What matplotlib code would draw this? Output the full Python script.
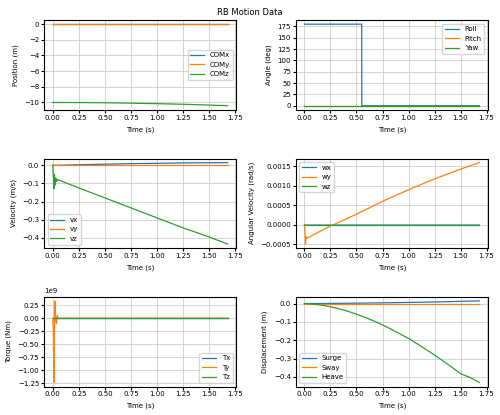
import matplotlib
matplotlib.use("Agg")
import matplotlib.pyplot as plt
from matplotlib.ticker import MultipleLocator

# Position
t_pos = [0.0, 0.25, 0.5, 0.75, 1.0, 1.25, 1.5, 1.68]
comx = [0.0, 0.0, 0.0, 0.0, 0.0, 0.0, 0.0, 0.0]
comy = [0.0, 0.0, 0.0, 0.0, 0.0, 0.0, 0.0, 0.0]
comz = [-10.0, -10.01, -10.04, -10.09, -10.15, -10.23, -10.33, -10.41]

# Angles
t_ang = [0.0, 0.55, 0.551, 1.68]
roll = [180.0, 180.0, 0.0, 0.0]
pitch = [0.0, 0.0, 0.0, 0.0]
yaw = [0.0, 0.0, 0.0, 0.0]

# Velocity
t_vel = [0.0, 0.005, 0.01, 0.015, 0.02, 0.025, 0.03, 0.035, 0.04, 0.05, 0.25, 0.5, 0.75, 1.0, 1.25, 1.5, 1.68]
vx = [0.0, 0.0, 0.0, 0.0, 0.0, 0.0, 0.0, 0.0, 0.0, 0.0, 0.003, 0.006, 0.009, 0.011, 0.013, 0.014, 0.015]
vy = [0.0] * 17
vz = [0.0, -0.06, -0.13, -0.05, -0.11, -0.07, -0.09, -0.075, -0.085, -0.08, -0.125, -0.18, -0.235, -0.29, -0.345, -0.395, -0.435]

# Angular velocity
t_w = [0.0, 0.005, 0.01, 0.015, 0.02, 0.03, 0.25, 0.28, 0.5, 0.75, 1.0, 1.25, 1.5, 1.68]
wx = [0.0] * 14
wy = [0.0, -0.0002, -0.0005, -0.0003, -0.00036, -0.00034, -0.00003, 0.0, 0.00027, 0.0006, 0.0009, 0.00118, 0.00143, 0.0016]
wz = [0.0, -0.000005, -0.00001, -0.00001, -0.00001, -0.00001, -0.00001, -0.00001, -0.00001, -0.00001, -0.00001, -0.00001, -0.00001, -0.00001]

# Torque
t_tq = [0.0, 0.005, 0.01, 0.015, 0.02, 0.025, 0.03, 0.035, 0.04, 0.045, 0.05, 1.68]
tx = [0.0] * 12
ty = [0.0, -0.3e9, -1.23e9, -0.2e9, 0.33e9, 0.1e9, -0.05e9, -0.1e9, 0.02e9, 0.05e9, 0.0, 0.0]
tz = [0.0] * 12

# Displacement
t_d = [0.0, 0.1, 0.2, 0.3, 0.4, 0.5, 0.6, 0.7, 0.8, 0.9, 1.0, 1.1, 1.2, 1.3, 1.4, 1.5, 1.6, 1.68]
surge = [0.0, 0.0002, 0.0005, 0.001, 0.0015, 0.002, 0.0027, 0.0035, 0.0043, 0.0052, 0.006, 0.007, 0.008, 0.0092, 0.0105, 0.012, 0.0132, 0.014]
sway = [0.0] * 18
heave = [0.0, -0.004, -0.012, -0.024, -0.039, -0.058, -0.079, -0.103, -0.13, -0.16, -0.19, -0.225, -0.262, -0.3, -0.34, -0.382, -0.405, -0.43]

plt.rcParams["lines.linewidth"] = 0.9
fig, axs = plt.subplots(3, 2, figsize=(5, 4.15), dpi=100)
fs = 5
def setup(ax, ylabel, loc, ystep=None):
    ax.set_xlabel("Time (s)", fontsize=fs)
    ax.set_ylabel(ylabel, fontsize=fs)
    ax.tick_params(labelsize=fs, length=2, pad=1.5)
    ax.yaxis.get_offset_text().set_fontsize(fs)
    ax.grid(True, color="#cccccc", linewidth=0.6)
    ax.legend(fontsize=fs, loc=loc)
    ax.set_xticks([0, 0.25, 0.5, 0.75, 1.0, 1.25, 1.5, 1.75])
    if ystep:
        ax.yaxis.set_major_locator(MultipleLocator(ystep))

ax = axs[0, 0]
ax.plot(t_pos, comx, label="COMx"); ax.plot(t_pos, comy, label="COMy"); ax.plot(t_pos, comz, label="COMz")
setup(ax, "Position (m)", "center right", 2)
ax = axs[0, 1]
ax.plot(t_ang, roll, label="Roll"); ax.plot(t_ang, pitch, label="Pitch"); ax.plot(t_ang, yaw, label="Yaw")
setup(ax, "Angle (deg)", "upper right", 25)
ax = axs[1, 0]
ax.plot(t_vel, vx, label="vx"); ax.plot(t_vel, vy, label="vy"); ax.plot(t_vel, vz, label="vz")
setup(ax, "Velocity (m/s)", "lower left", 0.1)
ax = axs[1, 1]
ax.plot(t_w, wx, label="wx"); ax.plot(t_w, wy, label="wy"); ax.plot(t_w, wz, label="wz")
setup(ax, "Angular Velocity (rad/s)", "upper left", 0.0005)
ax = axs[2, 0]
ax.plot(t_tq, tx, label="Tx"); ax.plot(t_tq, ty, label="Ty"); ax.plot(t_tq, tz, label="Tz")
setup(ax, "Torque (Nm)", "lower right", 0.25e9)
ax = axs[2, 1]
ax.plot(t_d, surge, label="Surge"); ax.plot(t_d, sway, label="Sway"); ax.plot(t_d, heave, label="Heave")
setup(ax, "Displacement (m)", "lower left", 0.1)

fig.suptitle("RB Motion Data", fontsize=6)
fig.tight_layout(pad=0.4, h_pad=1.2)
fig.savefig("out.png", dpi=100)
